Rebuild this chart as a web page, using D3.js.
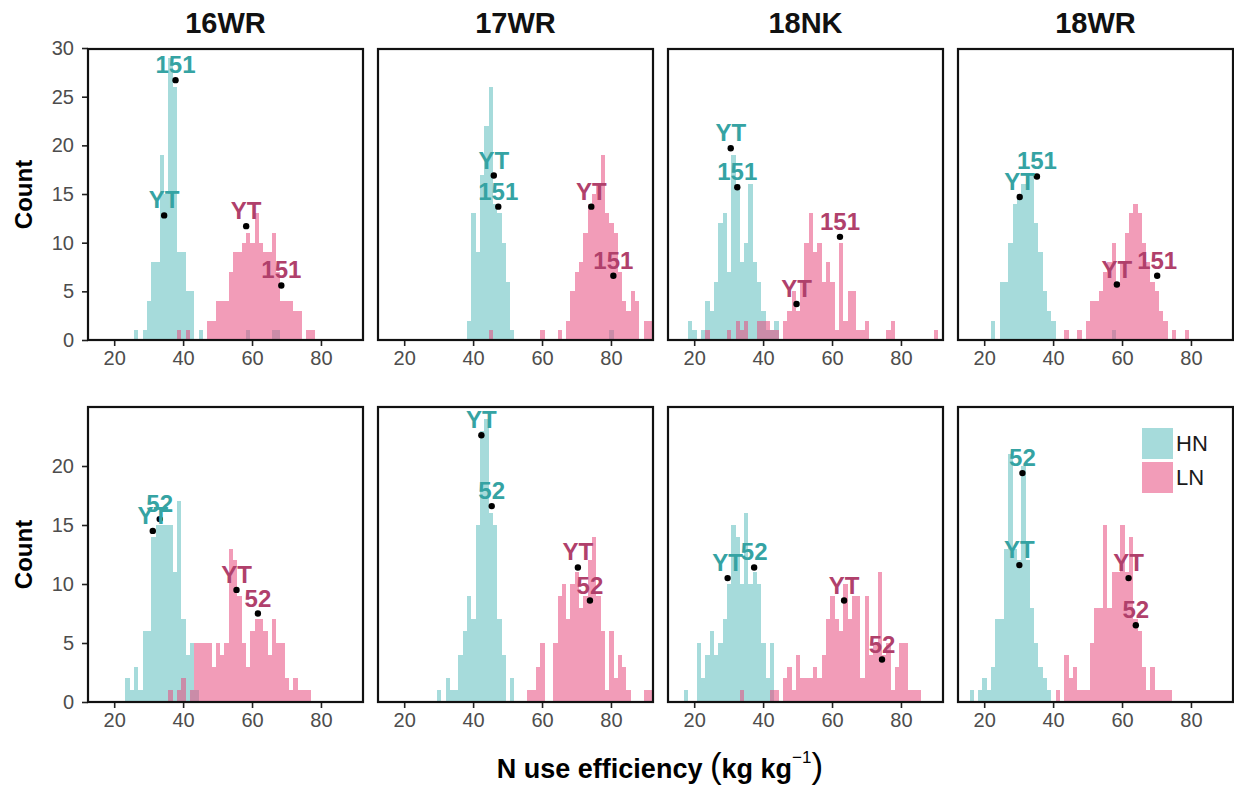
<!DOCTYPE html>
<html>
<head>
<meta charset="utf-8">
<script src="https://cdn.jsdelivr.net/npm/d3@7"></script>
<style>
  body { margin: 0; background: #fff; }
  text { font-family: "Liberation Sans", Arial, sans-serif; }
</style>
</head>
<body>
<svg id="canvas" width="1234" height="786"></svg>
<script>
// ---------------- data ----------------
var sites = ["16WR", "17WR", "18NK", "18WR"];
var bin_width = 1.25;
var x_ticks = [20, 40, 60, 80];
var y_ticks = [[0, 5, 10, 15, 20, 25, 30], [0, 5, 10, 15, 20]];
var y_max = [29.9, 25];

// left edge of the first bin of every histogram, [row][site]
var hn_start = [[25.75, 38.25, 18.25, 22.0], [23.25, 29.5, 17.0, 15.75]];
var ln_start = [[38.25, 44.5, 23.25, 43.25], [35.75, 55.75, 33.25, 40.75]];

// counts per bin, HN
var hn_counts = [
  [
    [1,0,1,4,8,8,19,15,29,26,9,9,5,5,0,1,0,0,0,0,0,0,0,0,0,0,1,0,0,0,0,0,1,1],
    [2,13,9,17,22,26,14,13,10,6,1,0,0,0,0,0,0,0,0,0,0,0,0,0,0,0,0,0,0,0,0,0,0,1],
    [2,1,0,1,4,3,6,12,13,7,19,16,8,10,16,8,6,3,1,1,2],
    [2,0,6,6,10,14,15,16,17,17,12,9,5,3,2,0,0,0,0,0,0,0,0,0,0,0,0,0,1]
  ],
  [
    [2,1,3,1,6,6,14,15,15,15,15,11,17,7,4,5,1],
    [1,0,2,1,1,4,6,9,7,15,23,24,16,15,7,4,0,2],
    [1,0,0,5,2,4,6,4,5,7,10,15,14,10,16,10,11,10,5,2,5],
    [1,0,1,2,1,3,7,7,13,21,13,12,20,12,8,5,3,2,1]
  ]
];

// counts per bin, LN
var ln_counts = [
  [
    [1,0,1,0,0,0,0,2,2,4,4,4,7,9,9,10,11,10,13,10,9,9,11,7,4,4,4,3,3,0,1,1],
    [1,0,0,0,0,0,0,0,0,0,0,0,1,0,0,0,1,0,2,5,7,8,11,14,15,16,19,13,12,11,7,4,3,5,4,0,2,2],
    [1,0,0,0,0,1,0,2,1,2,0,0,2,2,2,1,1,0,2,3,5,3,6,10,13,9,10,6,8,6,1,10,2,5,5,1,1,2,0,0,0,0,1,2,0,0,0,0,0,0,0,0,0,1],
    [1,0,0,1,0,2,4,4,5,7,8,10,6,8,11,13,14,13,10,8,6,5,3,2,0,1,0,0,1]
  ],
  [
    [1,0,1,2,0,1,5,5,5,5,3,5,4,5,13,12,9,5,3,6,7,7,6,4,7,5,5,2,1,2,1,1,1],
    [1,1,3,5,0,0,5,9,10,7,10,11,8,9,12,14,9,6,1,6,2,4,3,1,0,0,0,1,1],
    [1,0,0,0,0,0,0,1,1,0,2,3,1,4,2,2,2,3,2,4,7,9,7,6,10,7,9,9,2,9,4,5,11,4,5,1,3,5,5,1,1,1],
    [1,0,4,2,3,1,1,1,5,8,8,15,8,11,11,15,11,14,7,6,3,1,3,1,1,1,1]
  ]
];

// labelled genotypes: [NUE, count, label, treatment]
var dots = [
  [
    [[37.8,26.7,"151","HN"], [34.5,12.8,"YT","HN"], [58.3,11.7,"YT","LN"], [68.5,5.6,"151","LN"]],
    [[46.0,16.9,"YT","HN"], [47.3,13.7,"151","HN"], [74.3,13.7,"YT","LN"], [80.7,6.6,"151","LN"]],
    [[30.6,19.7,"YT","HN"], [32.5,15.7,"151","HN"], [49.7,3.7,"YT","LN"], [62.3,10.6,"151","LN"]],
    [[30.3,14.7,"YT","HN"], [35.3,16.8,"151","HN"], [58.5,5.7,"YT","LN"], [70.2,6.6,"151","LN"]]
  ],
  [
    [[31.2,14.5,"YT","HN"], [33.2,15.5,"52","HN"], [55.5,9.5,"YT","LN"], [61.7,7.5,"52","LN"]],
    [[42.4,22.6,"YT","HN"], [45.4,16.6,"52","HN"], [70.4,11.4,"YT","LN"], [73.9,8.6,"52","LN"]],
    [[29.7,10.5,"YT","HN"], [37.4,11.4,"52","HN"], [63.5,8.6,"YT","LN"], [74.5,3.6,"52","LN"]],
    [[30.2,11.6,"YT","HN"], [31.1,19.4,"52","HN"], [61.9,10.5,"YT","LN"], [64.0,6.5,"52","LN"]]
  ]
];

var treatments = ["HN", "LN"];

// ---------------- layout ----------------
var panel_w = 275, panel_step = 290, panel_x0 = 88;
var row_top = [49, 407], row_bottom = [340, 702];
var x_domain = [12.4, 92.2];

var fill = { HN: "#a6dbdb", LN: "#e74b7e" };
var fill_opacity = { HN: 1, LN: 0.55 };
var label_col = { HN: "#35a3a3", LN: "#b0406b" };

var svg = d3.select("#canvas");

function bins(start, counts) {
  return counts.map(function(c, i) { return { x0: start + i * bin_width, x1: start + (i + 1) * bin_width, n: c }; })
               .filter(function(d) { return d.n > 0; });
}

for (var r = 0; r < 2; r++) {
  var yScale = d3.scaleLinear().domain([0, y_max[r]]).range([row_bottom[r], row_top[r]]);

  for (var c = 0; c < 4; c++) {
    var left = panel_x0 + c * panel_step;
    var xScale = d3.scaleLinear().domain(x_domain).range([left, left + panel_w]);
    var g = svg.append("g");

    // histograms, HN below LN
    [["HN", hn_start[r][c], hn_counts[r][c]], ["LN", ln_start[r][c], ln_counts[r][c]]].forEach(function(s) {
      g.append("g").selectAll("rect").data(bins(s[1], s[2])).join("rect")
        .attr("x", function(d) { return xScale(d.x0); })
        .attr("width", function(d) { return xScale(d.x1) - xScale(d.x0); })
        .attr("y", function(d) { return yScale(d.n); })
        .attr("height", function(d) { return yScale(0) - yScale(d.n); })
        .attr("fill", fill[s[0]])
        .attr("fill-opacity", fill_opacity[s[0]])
        .attr("shape-rendering", "crispEdges");
    });

    // x axis
    var xa = g.append("g").attr("transform", "translate(0," + row_bottom[r] + ")")
      .call(d3.axisBottom(xScale).tickValues(x_ticks).tickSize(6).tickPadding(5));
    xa.select(".domain").remove();
    xa.selectAll("line").attr("stroke", "#222").attr("stroke-width", 1.6);
    xa.selectAll("text").attr("font-size", 20).attr("fill", "#4d4d4d")
      .style("font-family", '"Liberation Sans", Arial, sans-serif');

    // y axis only on the first column
    if (c == 0) {
      var ya = g.append("g").attr("transform", "translate(" + left + ",0)")
        .call(d3.axisLeft(yScale).tickValues(y_ticks[r]).tickSize(6).tickPadding(8));
      ya.select(".domain").remove();
      ya.selectAll("line").attr("stroke", "#222").attr("stroke-width", 1.6);
      ya.selectAll("text").attr("font-size", 20).attr("fill", "#4d4d4d")
        .style("font-family", '"Liberation Sans", Arial, sans-serif');
    }

    // panel border
    g.append("rect")
      .attr("x", left).attr("y", row_top[r])
      .attr("width", panel_w).attr("height", row_bottom[r] - row_top[r])
      .attr("fill", "none").attr("stroke", "#111").attr("stroke-width", 2.2);

    // labelled dots
    var pts = dots[r][c];
    g.append("g").selectAll("circle").data(pts).join("circle")
      .attr("cx", function(d) { return xScale(d[0]); })
      .attr("cy", function(d) { return yScale(d[1]); })
      .attr("r", 3.2).attr("fill", "#000");
    g.append("g").selectAll("text").data(pts).join("text")
      .attr("x", function(d) { return xScale(d[0]); })
      .attr("y", function(d) { return yScale(d[1]) - 7; })
      .attr("text-anchor", "middle")
      .attr("font-size", 24).attr("font-weight", "bold")
      .attr("fill", function(d) { return label_col[d[3]]; })
      .text(function(d) { return d[2]; });

    // site title
    if (r == 0) {
      svg.append("text")
        .attr("x", left + panel_w / 2).attr("y", 33)
        .attr("text-anchor", "middle").attr("font-size", 29).attr("font-weight", "bold")
        .attr("fill", "#111").text(sites[c]);
    }
  }

  // y title
  var cy = (row_top[r] + row_bottom[r]) / 2;
  svg.append("text")
    .attr("transform", "translate(32," + cy + ") rotate(-90)")
    .attr("text-anchor", "middle").attr("font-size", 24).attr("font-weight", "bold")
    .attr("fill", "#000").text("Count");
}

// legend inside the last panel
var legend = svg.append("g").attr("transform", "translate(1142,428)");
treatments.forEach(function(t, i) {
  legend.append("rect").attr("x", 0).attr("y", i * 34).attr("width", 31).attr("height", 31)
    .attr("fill", fill[t]).attr("fill-opacity", fill_opacity[t]);
  legend.append("text").attr("x", 34).attr("y", i * 34 + 23)
    .attr("font-size", 22).attr("fill", "#1a1a1a").text(t);
});

// x title
var xt = svg.append("text")
  .attr("x", 660).attr("y", 778)
  .attr("text-anchor", "middle").attr("font-size", 27).attr("font-weight", "bold").attr("fill", "#000");
xt.append("tspan").text("N use efficiency ");
xt.append("tspan").attr("font-weight", "normal").attr("font-size", 35).text("(");
xt.append("tspan").text("kg kg");
xt.append("tspan").attr("font-weight", "normal").attr("font-size", 17).attr("dy", -15).text("\u22121");
xt.append("tspan").attr("font-weight", "normal").attr("font-size", 35).attr("dy", 15).text(")");
</script>
</body>
</html>
